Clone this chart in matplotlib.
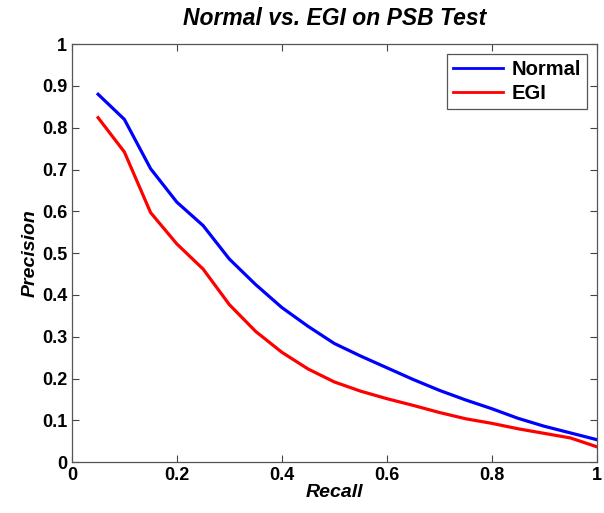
import numpy as np
import matplotlib.pyplot as plt

recall = [0.05, 0.10, 0.15, 0.20, 0.25, 0.30, 0.35, 0.40, 0.45, 0.50,
          0.55, 0.60, 0.65, 0.70, 0.75, 0.80, 0.85, 0.90, 0.95, 1.00]
normal = [0.880, 0.820, 0.702, 0.622, 0.566, 0.486, 0.425, 0.370, 0.325, 0.284,
          0.254, 0.226, 0.198, 0.172, 0.149, 0.128, 0.105, 0.086, 0.070, 0.054]
egi = [0.824, 0.742, 0.597, 0.522, 0.462, 0.377, 0.313, 0.263, 0.223, 0.192,
       0.170, 0.152, 0.136, 0.119, 0.104, 0.093, 0.080, 0.069, 0.058, 0.037]

plt.rcParams['font.family'] = ['Liberation Sans', 'DejaVu Sans']

fig = plt.figure(figsize=(6.04, 5.13), dpi=100)
ax = fig.add_axes([0.119, 0.099, 0.869, 0.815])

ax.plot(recall, normal, color='#0000ff', lw=2.3, label='Normal')
ax.plot(recall, egi, color='#ff0000', lw=2.3, label='EGI')

ax.set_xlim(0, 1)
ax.set_ylim(0, 1)
ax.set_xticks(np.arange(0, 1.01, 0.2))
ax.set_yticks(np.arange(0, 1.01, 0.1))
ax.set_xticklabels(['0', '0.2', '0.4', '0.6', '0.8', '1'])
ax.set_yticklabels(['0', '0.1', '0.2', '0.3', '0.4', '0.5', '0.6', '0.7', '0.8', '0.9', '1'])
ax.tick_params(direction='in', top=True, right=True, length=5, width=0.8,
               color='#444444', labelsize=13)
for lab in ax.get_xticklabels() + ax.get_yticklabels():
    lab.set_fontweight('bold')
for s in ax.spines.values():
    s.set_color('#555555')
    s.set_linewidth(0.9)

ax.set_xlabel('Recall', fontsize=14, fontweight='bold', fontstyle='italic', labelpad=0)
ax.set_ylabel('Precision', fontsize=14, fontweight='bold', fontstyle='italic', labelpad=2)
ax.set_title('Normal vs. EGI on PSB Test', fontsize=16.5, fontweight='bold', fontstyle='italic', pad=14)

leg = ax.legend(loc='upper right', fancybox=False, framealpha=1, edgecolor='#555555',
                prop={'weight': 'bold', 'size': 14.5}, handlelength=2.5, handletextpad=0.4,
                borderpad=0.3, labelspacing=0.25, borderaxespad=0.5)
leg.get_frame().set_linewidth(0.9)
for h in leg.get_lines():
    h.set_linewidth(2.0)

fig.savefig('out.png', dpi=100)
